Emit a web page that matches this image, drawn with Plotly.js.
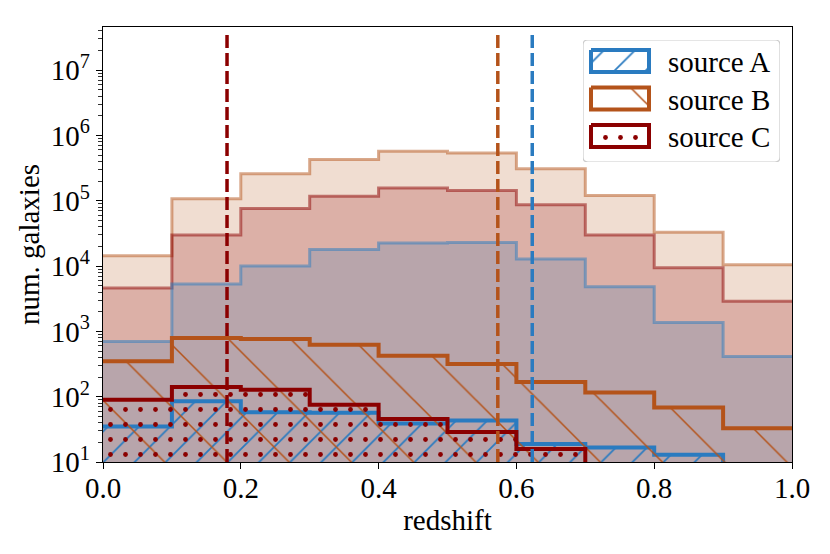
<!DOCTYPE html>
<html>
<head>
<meta charset="utf-8">
<script src="https://cdn.plot.ly/plotly-3.0.1.min.js"></script>
<style>
  body { margin: 0; background: #fff; }
  #chart { width: 830px; height: 554px; }
</style>
</head>
<body>
<div id="chart"></div>
<script>
// bin edges (redshift)
const binEdges = [0.0, 0.1, 0.2, 0.3, 0.4, 0.5, 0.6, 0.7, 0.8, 0.9, 1.0];

// all galaxies per source (filled, translucent)
const totalA = [700, 5300, 10000, 18000, 22500, 23000, 12800, 4800, 1370, 414];
const totalB = [14400, 107000, 260000, 427000, 570000, 540000, 310000, 120000, 33000, 10500];
const totalC = [4600, 30000, 76000, 117000, 157000, 144000, 87000, 30000, 9400, 2900];

// selected galaxies per source (hatched)
const selA = [35, 85, 58, 57, 39, 43, 18.9, 16.7, 12.9, 0];
const selB = [348, 793, 766, 625, 425, 317, 168, 116, 68.6, 33];
const selC = [90, 141, 128, 75, 45.5, 28.8, 15.8, 0, 0, 0];

// median redshift of each selection
const medians = [0.623, 0.573, 0.18];

const names = ['source A', 'source B', 'source C'];
const colA = [42, 123, 192];
const colB = [180, 83, 26];
const colC = [139, 0, 0];

function rgba(c, a) {
  return 'rgba(' + c[0] + ',' + c[1] + ',' + c[2] + ',' + a + ')';
}

// repeat last value so the 'hv' step closes at the final edge
function stepY(v) {
  return v.concat([v[v.length - 1]]);
}

function filledHist(vals, col) {
  return {
    type: 'scatter', mode: 'lines',
    x: binEdges, y: stepY(vals),
    line: { shape: 'hv', color: rgba(col, 0.5), width: 3 },
    fill: 'tozeroy', fillcolor: rgba(col, 0.2),
    hoverinfo: 'skip', showlegend: false
  };
}

function hatchHist(vals, col, shape, size, solidity) {
  return {
    type: 'scatter', mode: 'lines',
    x: binEdges, y: stepY(vals),
    line: { shape: 'hv', color: rgba(col, 1), width: 4 },
    fill: 'tozeroy', fillcolor: 'rgba(0,0,0,0)',
    fillpattern: { shape: shape, size: size, solidity: solidity,
                   fgcolor: rgba(col, 1), bgcolor: 'rgba(0,0,0,0)', fillmode: 'replace' },
    hoverinfo: 'skip', showlegend: false
  };
}

const hatches = [
  { shape: '/', size: 22, solidity: 0.08 },
  { shape: '\\', size: 44, solidity: 0.035 },
  { shape: '.', size: 15, solidity: 0.08 }
];
const cols = [colA, colB, colC];

const traces = [
  filledHist(totalB, colB),
  filledHist(totalC, colC),
  filledHist(totalA, colA),
  hatchHist(selA, colA, hatches[0].shape, hatches[0].size, hatches[0].solidity),
  hatchHist(selB, colB, hatches[1].shape, hatches[1].size, hatches[1].solidity),
  hatchHist(selC, colC, hatches[2].shape, hatches[2].size, hatches[2].solidity)
];

const font = { family: 'Liberation Serif', size: 29, color: '#000' };

// legend drawn on its own small pixel-scaled axes (x2/y2)
const legendW = 197, legendH = 122;
const annotations = [];
for (let i = 0; i < 3; i++) {
  const top = 10 + i * 37.5, bot = top + 22;
  traces.push({
    type: 'scatter', mode: 'lines', xaxis: 'x2', yaxis: 'y2',
    x: [8, 66, 66, 8, 8], y: [top, top, bot, bot, top],
    line: { color: rgba(cols[i], 1), width: 4 },
    fill: 'toself', fillcolor: 'rgba(255,255,255,1)',
    fillpattern: { shape: hatches[i].shape, size: hatches[i].size, solidity: hatches[i].solidity,
                   fgcolor: rgba(cols[i], 1), bgcolor: 'rgba(255,255,255,1)', fillmode: 'replace' },
    hoverinfo: 'skip', showlegend: false
  });
  annotations.push({
    xref: 'x2', yref: 'y2', x: 83, y: (top + bot) / 2 + 1,
    xanchor: 'left', yanchor: 'middle', showarrow: false,
    text: names[i], font: font
  });
}

const shapes = [];
// legend frame
const r = 5;
shapes.push({
  type: 'path', xref: 'x2', yref: 'y2', layer: 'below',
  path: 'M ' + r + ',0 L ' + (legendW - r) + ',0 Q ' + legendW + ',0 ' + legendW + ',' + r +
        ' L ' + legendW + ',' + (legendH - r) + ' Q ' + legendW + ',' + legendH + ' ' + (legendW - r) + ',' + legendH +
        ' L ' + r + ',' + legendH + ' Q 0,' + legendH + ' 0,' + (legendH - r) +
        ' L 0,' + r + ' Q 0,0 ' + r + ',0 Z',
  fillcolor: 'rgba(255,255,255,0.8)', line: { color: '#cccccc', width: 1.2 }
});
// median markers
for (let i = 0; i < 3; i++) {
  shapes.push({
    type: 'line', xref: 'x', yref: 'paper', layer: 'above',
    x0: medians[i], x1: medians[i], y0: 0, y1: 0.988,
    line: { color: rgba(cols[i], 1), width: 3.5, dash: '13px,5px' }
  });
}

const yTickVals = [], yTickText = [], yMinor = [];
for (let p = 1; p <= 7; p++) {
  yTickVals.push(Math.pow(10, p));
  yTickText.push('10<sup>' + p + '</sup>');
  for (let k = 2; k <= 9; k++) yMinor.push(k * Math.pow(10, p));
}

const layout = {
  width: 830, height: 554,
  margin: { l: 103, r: 38, t: 27, b: 92 },
  paper_bgcolor: '#fff',
  plot_bgcolor: 'rgba(0,0,0,0)',
  showlegend: false,
  font: font,
  xaxis: {
    range: [0, 1], tickvals: [0, 0.2, 0.4, 0.6, 0.8, 1.0], tickformat: '.1f',
    ticks: 'outside', ticklen: 6, tickwidth: 1, tickcolor: '#000',
    ticklabelstandoff: -6,
    showline: true, mirror: true, linecolor: '#000', linewidth: 1.2,
    showgrid: false, zeroline: false, tickfont: font,
    title: { text: 'redshift', font: font, standoff: 6 }
  },
  yaxis: {
    type: 'log', range: [1, 7.66],
    tickvals: yTickVals, ticktext: yTickText,
    ticks: 'outside', ticklen: 6, tickwidth: 1, tickcolor: '#000',
    minor: { tickvals: yMinor, ticks: 'outside', ticklen: 3.5, tickwidth: 0.8, tickcolor: '#000', showgrid: false },
    showline: true, mirror: true, linecolor: '#000', linewidth: 1.2,
    showgrid: false, zeroline: false, tickfont: font,
    title: { text: 'num. galaxies', font: font, standoff: 2 }
  },
  xaxis2: {
    domain: [(583 - 103) / 689, (780 - 103) / 689], range: [0, legendW],
    visible: false, fixedrange: true, anchor: 'y2'
  },
  yaxis2: {
    domain: [(462 - 162) / 435, (462 - 40) / 435], range: [legendH, 0],
    visible: false, fixedrange: true, anchor: 'x2'
  },
  shapes: shapes,
  annotations: annotations
};

Plotly.newPlot('chart', traces, layout, { staticPlot: true });
</script>
</body>
</html>
